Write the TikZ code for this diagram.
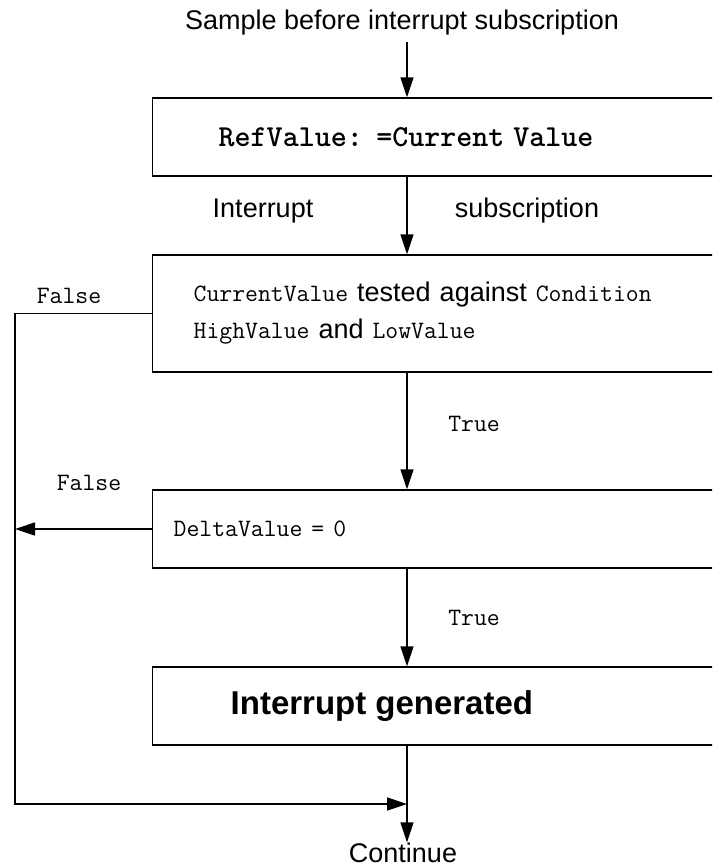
\documentclass[tikz,border=0pt]{standalone}
\usepackage{fontspec}
\setmainfont{Liberation Sans}
\usetikzlibrary{arrows.meta}

\newcommand{\sanstext}{\fontsize{27}{37}\selectfont}
\newcommand{\cword}[1]{{\fontsize{25}{37}\selectfont\ttfamily #1}}

\begin{document}
\begin{tikzpicture}[x=1pt,y=-1pt,line width=1.4pt,
		flow/.style={-{Triangle[length=20pt,width=13pt]}},
		stepbox/.style={draw,rectangle,anchor=west,align=left,inner ysep=0pt,font=\sanstext},
		plain/.style={inner sep=0pt,font=\sanstext},
		mono/.style={inner sep=0pt,font=\fontsize{25}{28}\selectfont\ttfamily}]
					% Page size, boxes run off the right edge
					\useasboundingbox (0,0) rectangle (712,867);
					\clip (0,0) rectangle (712,867);
					\coordinate (axis) at (407,0);
					\coordinate (rail) at (15,0);
					\coordinate (join) at (407,804);
					% Steps
					\node[plain,inner sep=6pt] (title) at (402,23) {Sample before interrupt subscription};
					\node[stepbox,minimum height=78pt,inner xsep=66pt,text width=516pt] (ref) at (152,137)
						{\fontsize{30.5}{32}\selectfont\ttfamily\bfseries RefValue: =Current Value};
					\node[stepbox,minimum height=117pt,inner xsep=41pt,text width=566pt] (test) at (152,313.5)
						{\cword{CurrentValue} tested against \cword{Condition}\\
						 \cword{HighValue} and \cword{LowValue}};
					\node[stepbox,minimum height=78pt,inner xsep=21pt,text width=606pt] (delta) at (152,529)
						{\cword{DeltaValue = 0}};
					\node[stepbox,minimum height=78pt,inner xsep=78pt,text width=492pt] (irq) at (152,706)
						{\fontsize{33}{38}\selectfont\bfseries Interrupt generated};
					\node[plain] (cont) at (403,853) {Continue};
					% Labels
					\node[plain] (lint) at (263,211) {Interrupt};
					\node[plain] (lsub) at (527,211) {subscription};
					\node[mono] (ltrue1) at (474,424) {True};
					\node[mono] (ltrue2) at (474,618) {True};
					\node[mono] (lfalse1) at (69,296) {False};
					\node[mono] (lfalse2) at (89,483) {False};
					% Main flow
					\draw[flow] (title.south -| axis) -- (ref.north -| axis);
					\draw[flow] (ref.south -| axis) -- (test.north -| axis);
					\draw[flow] (test.south -| axis) -- (delta.north -| axis);
					\draw[flow] (delta.south -| axis) -- (irq.north -| axis);
					\draw[flow] (irq.south -| axis) -- (cont.north -| axis);
					% False branches
					\draw[flow] (test.west) -- (test.west -| rail) -- (rail |- join) -- (join);
					\draw[flow] (delta.west) -- (delta.west -| rail);
				\end{tikzpicture}
\end{document}
